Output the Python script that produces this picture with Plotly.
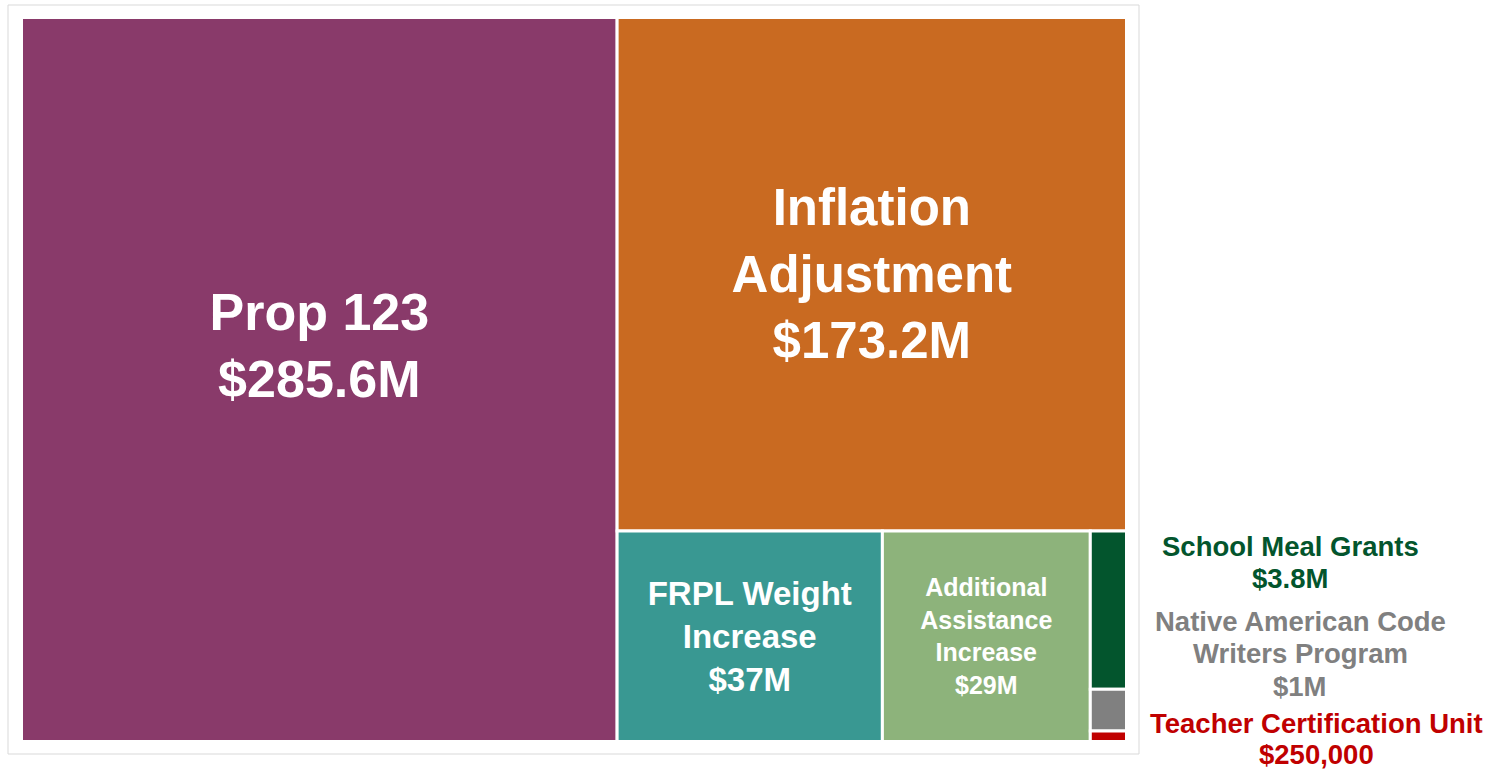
import plotly.graph_objects as go

# Data
categories = ["Prop 123", "Inflation Adjustment", "FRPL Weight Increase",
              "Additional Assistance Increase", "School Meal Grants",
              "Native American Code Writers Program", "Teacher Certification Unit"]
display_names = ["Prop 123", "Inflation<br>Adjustment", "FRPL Weight<br>Increase",
                 "Additional<br>Assistance<br>Increase", "School Meal Grants",
                 "Native American Code<br>Writers Program", "Teacher Certification Unit"]
values_musd = [285.6, 173.2, 37, 29, 3.8, 1, 0.25]
colors = ["#893A6A", "#C96A21", "#399892", "#8DB37B", "#03552D", "#808080", "#C00000"]
inside_sizes = [52, 51, 33, 25, 10, 10, 10]
inside_flags = [True, True, True, True, False, False, False]
# trailing blank lines nudge a label upward inside its tile
trailing_blank = ["<br> ", "", "", "", "", "", ""]

W, H = 1507, 773


def fmt_money(v):
    if v >= 1:
        s = ("%.1f" % v).rstrip("0").rstrip(".")
        return "$" + s + "M"
    return "${:,.0f}".format(v * 1e6)


texttemplates = [("<b>" + d + "<br>" + fmt_money(v) + "</b>" + t) if f else " "
                 for d, v, f, t in zip(display_names, values_musd, inside_flags, trailing_blank)]

fig = go.Figure(go.Treemap(
    labels=categories,
    parents=[""] * len(categories),
    values=values_musd,
    texttemplate=texttemplates,
    textposition="middle center",
    textfont=dict(family="Liberation Sans, Arial, sans-serif", color="white", size=inside_sizes),
    marker=dict(colors=colors, line=dict(color="white", width=3), pad=dict(t=0, l=0, r=0, b=0)),
    tiling=dict(packing="squarify", pad=0),
    pathbar=dict(visible=False),
    sort=True,
    hoverinfo="label+value",
    domain=dict(x=[21.5 / W, 1126.5 / W], y=[1 - 741.5 / H, 1 - 17.5 / H]),
))

# Frame
fig.add_shape(type="rect", xref="paper", yref="paper",
              x0=8 / W, x1=1139 / W, y0=1 - 754 / H, y1=1 - 5 / H,
              line=dict(color="#D9D9D9", width=1), fillcolor="rgba(0,0,0,0)")

# Outside labels for small tiles (one annotation per line for tight spacing)
ann_pos = [(4, 1290, 546, 32.5), (5, 1300, 621, 32.5), (6, 1316, 723, 31)]
for idx, xc, y0, gap in ann_pos:
    lines = display_names[idx].split("<br>") + [fmt_money(values_musd[idx])]
    for k, ln in enumerate(lines):
        fig.add_annotation(
            x=xc / W, y=1 - (y0 + k * gap) / H, xref="paper", yref="paper",
            xanchor="center", yanchor="middle",
            text="<b>" + ln + "</b>",
            showarrow=False, align="center", borderpad=0,
            font=dict(family="Liberation Sans, Arial, sans-serif", size=27.5, color=colors[idx]),
        )

fig.update_layout(
    width=W, height=H,
    margin=dict(l=0, r=0, t=0, b=0),
    paper_bgcolor="white",
    plot_bgcolor="white",
    showlegend=False,
)

fig.write_html("out.html", config={"displayModeBar": False},
               post_script="document.body.style.margin='0';")
